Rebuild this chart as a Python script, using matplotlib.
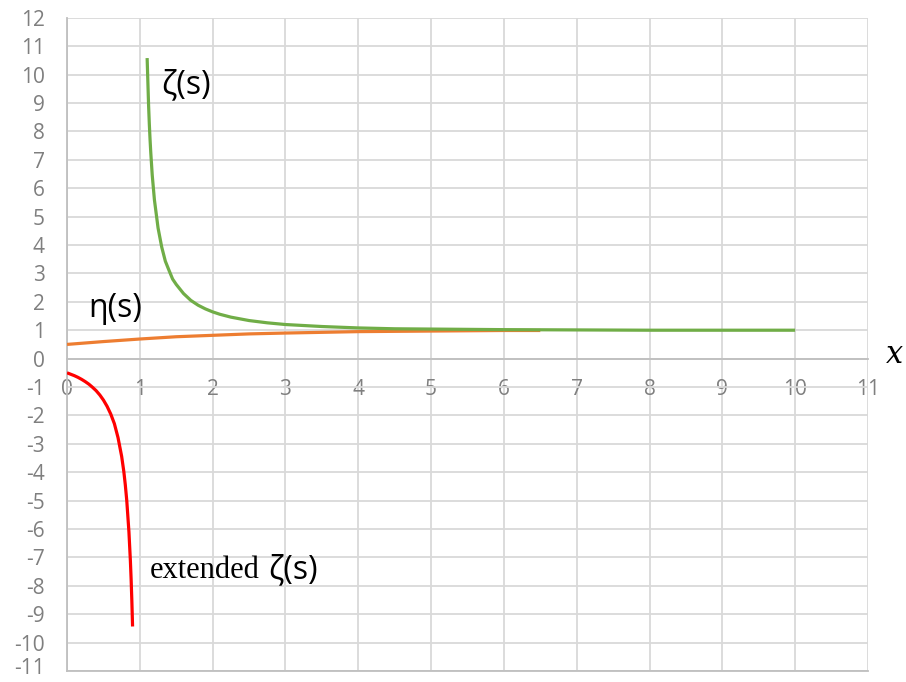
import matplotlib.pyplot as plt
from matplotlib.transforms import ScaledTranslation

plt.rcParams['axes.unicode_minus'] = False

# values
zeta_s = [1.1, 1.12, 1.13, 1.14, 1.15, 1.17, 1.2, 1.25, 1.3, 1.35, 1.4, 1.45, 1.5, 1.6, 1.7,
          1.8, 1.9, 2.0, 2.1, 2.25, 2.5, 2.75, 3.0, 3.5, 4.0, 4.5, 5.0, 6.0, 7.0, 8.0, 10.0]
zeta_v = [10.58, 8.91, 8.26, 7.72, 7.25, 6.46, 5.59, 4.60, 3.93, 3.43, 3.11, 2.80, 2.61, 2.29,
          2.05, 1.88, 1.75, 1.645, 1.56, 1.46, 1.34, 1.26, 1.20, 1.13, 1.08, 1.05, 1.04, 1.02,
          1.01, 1.00, 1.00]

eta_s = [0, 0.5, 1, 1.5, 2, 2.5, 3, 4, 5, 6, 6.5]
eta_v = [0.50, 0.60, 0.69, 0.77, 0.82, 0.87, 0.90, 0.95, 0.97, 0.99, 0.99]

ext_s = [0, 0.05, 0.1, 0.15, 0.2, 0.25, 0.3, 0.35, 0.4, 0.45, 0.5, 0.55, 0.6, 0.65, 0.7,
         0.75, 0.78, 0.8, 0.82, 0.85, 0.87, 0.88, 0.89, 0.9]
ext_v = [-0.50, -0.55, -0.60, -0.66, -0.73, -0.81, -0.90, -1.01, -1.13, -1.28, -1.46, -1.68,
         -1.95, -2.29, -2.78, -3.44, -3.98, -4.44, -4.99, -6.10, -7.12, -7.76, -8.52, -9.43]

x_ticks = list(range(0, 12))
y_ticks = list(range(-11, 13))

fig = plt.figure(figsize=(9.06, 6.82), dpi=100)
ax = fig.add_axes([0.074, 0.016, 0.884, 0.958])

ax.plot(eta_s, eta_v, color='#ED7D31', lw=2.3, solid_capstyle='butt', zorder=3)
ax.plot(zeta_s, zeta_v, color='#70AD47', lw=2.3, solid_capstyle='butt', zorder=4)
ax.plot(ext_s, ext_v, color='#FF0000', lw=2.3, solid_capstyle='butt', zorder=4)

ax.set_xlim(0, 11)
ax.set_ylim(-11, 12)
ax.set_xticks(x_ticks)
ax.set_yticks(y_ticks)
ax.grid(True, color='#D9D9D9', lw=1.3)
ax.set_axisbelow(True)

for s in ['top', 'right']:
    ax.spines[s].set_visible(False)
ax.spines['left'].set_color('#BFBFBF')
ax.spines['left'].set_linewidth(1.3)
ax.spines['bottom'].set_position(('data', 0))
ax.spines['bottom'].set_color('#BFBFBF')
ax.spines['bottom'].set_linewidth(1.3)
ax.axhline(-11, color='#BFBFBF', lw=1.3, clip_on=False)

ax.tick_params(length=0, labelsize=15, labelcolor='#7F7F7F')
ax.tick_params(axis='x', pad=15)
ax.tick_params(axis='y', pad=16)
for lab in ax.get_xticklabels() + ax.get_yticklabels():
    lab.set_fontfamily('Open Sans')

# lowest y label sits on the figure edge; nudge it up a little
low = ax.get_yticklabels()[0]
low.set_transform(low.get_transform() + ScaledTranslation(0, 4 / 72, fig.dpi_scale_trans))

ax.text(1.3, 9.65, 'ζ(s)', fontsize=23, family='Open Sans', va='center', ha='left')
ax.text(0.29, 1.75, 'η(s)', fontsize=23, family='Open Sans', va='center', ha='left')
ax.text(1.14, -7.45, 'extended', fontsize=22, family='Liberation Serif', va='center', ha='left')
ax.text(2.76, -7.45, 'ζ(s)', fontsize=23, family='Open Sans', va='center', ha='left')
ax.text(11.24, 0.15, 'x', fontsize=22, family='DejaVu Serif', style='italic',
        va='center', ha='left', clip_on=False)

plt.savefig('out.png', dpi=100)
